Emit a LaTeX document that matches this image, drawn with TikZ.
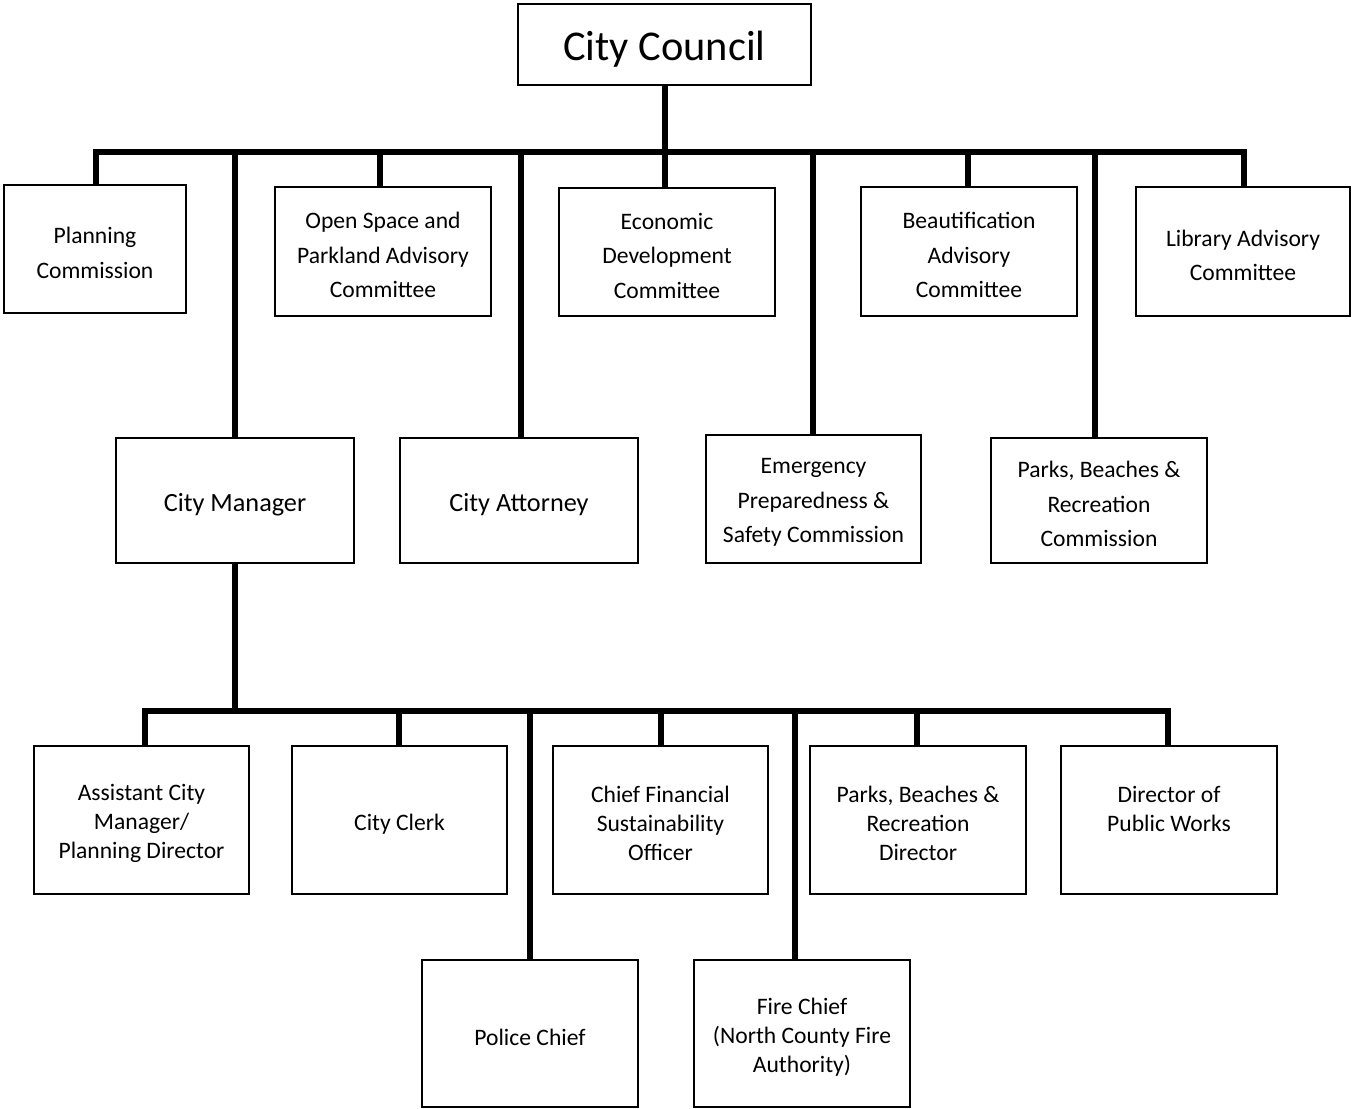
\documentclass[tikz,border=0pt]{standalone}
\usepackage{fontspec}
\setmainfont{Carlito}
\newcommand\bx[7][]{\node[box, minimum width={(#4-#2)*0.75pt}, minimum height={(#5-#3)*0.75pt}] (#6) at ({(#2+#4)/2},{(#3+#5)/2}) {};
  \node[txt, #1] (#6-t) at ([yshift=-2.8pt]#6.center) {#7};}
\begin{document}
\begin{tikzpicture}[x=0.75pt,y=-0.75pt,
  box/.style={draw, line width=1.8pt, inner sep=0pt, outer sep=0pt},
  txt/.style={inner sep=0pt, align=center, font=\fontsize{17.7}{25.9}\selectfont},
  low/.style={font=\fontsize{17.7}{21.8}\selectfont},
  link/.style={line width=3.9pt, line join=miter}]
\useasboundingbox (0,0) rectangle (1353,1109);
% top level
\bx[font=\fontsize{31.8}{38}\selectfont, yshift=-0.8pt]{518}{4}{811}{85}{cc}{City Council}
\bx{4}{185}{186}{313}{pc}{Planning\\Commission}
\bx{275}{187}{491}{316}{os}{Open Space and\\Parkland Advisory\\Committee}
\bx{559}{188}{775}{316}{ed}{Economic\\Development\\Committee}
\bx{861}{187}{1077}{316}{bc}{Beautification\\Advisory\\Committee}
\bx{1136}{187}{1350}{316}{la}{Library Advisory\\Committee}
\bx[font=\fontsize{19.7}{24}\selectfont]{116}{438}{354}{563}{cm}{City Manager}
\bx[font=\fontsize{19.7}{24}\selectfont]{400}{438}{638}{563}{ca}{City Attorney}
\bx{706}{435}{921}{563}{ep}{Emergency\\Preparedness \&\\Safety Commission}
\bx{991}{438}{1207}{563}{pb}{Parks, Beaches \&\\Recreation\\Commission}
% lower level
\bx[low]{34}{746}{249}{894}{ac}{Assistant City\\Manager/\\Planning Director}
\bx[low]{292}{746}{507}{894}{ck}{City Clerk}
\bx[low]{553}{746}{768}{894}{cf}{Chief Financial\\Sustainability\\Officer}
\bx[low]{810}{746}{1026}{894}{pd}{Parks, Beaches \&\\Recreation\\Director}
\bx[low]{1061}{746}{1277}{894}{pw}{Director of\\Public Works\\\mbox{}}
\bx[low]{422}{960}{638}{1107}{po}{Police Chief}
\bx[low]{694}{960}{910}{1107}{fc}{Fire Chief\\(North County Fire\\Authority)}
% top bus coordinates
\coordinate (t1) at (96,152);
\coordinate (t2) at (235,152);
\coordinate (t3) at (380,152);
\coordinate (t4) at (521,152);
\coordinate (t5) at (665,152);
\coordinate (t6) at (813,152);
\coordinate (t7) at (968,152);
\coordinate (t8) at (1095,152);
\coordinate (t9) at (1244,152);
\draw[link] (pc.north -| t1) -- (t1) -- (t9) -- (la.north -| t9);
\draw[link] (cc.south -| t5) -- (ed.north -| t5);
\draw[link] (t2) -- (cm.north -| t2);
\draw[link] (t3) -- (os.north -| t3);
\draw[link] (t4) -- (ca.north -| t4);
\draw[link] (t6) -- (ep.north -| t6);
\draw[link] (t7) -- (bc.north -| t7);
\draw[link] (t8) -- (pb.north -| t8);
% lower bus coordinates
\coordinate (b1) at (145,711);
\coordinate (b2) at (235,711);
\coordinate (b3) at (399,711);
\coordinate (b4) at (530,711);
\coordinate (b5) at (661,711);
\coordinate (b6) at (795,711);
\coordinate (b7) at (917,711);
\coordinate (b8) at (1168,711);
\draw[link] (ac.north -| b1) -- (b1) -- (b8) -- (pw.north -| b8);
\draw[link] (cm.south -| b2) -- (b2);
\draw[link] (b3) -- (ck.north -| b3);
\draw[link] (b4) -- (po.north -| b4);
\draw[link] (b5) -- (cf.north -| b5);
\draw[link] (b6) -- (fc.north -| b6);
\draw[link] (b7) -- (pd.north -| b7);
\end{tikzpicture}
\end{document}
